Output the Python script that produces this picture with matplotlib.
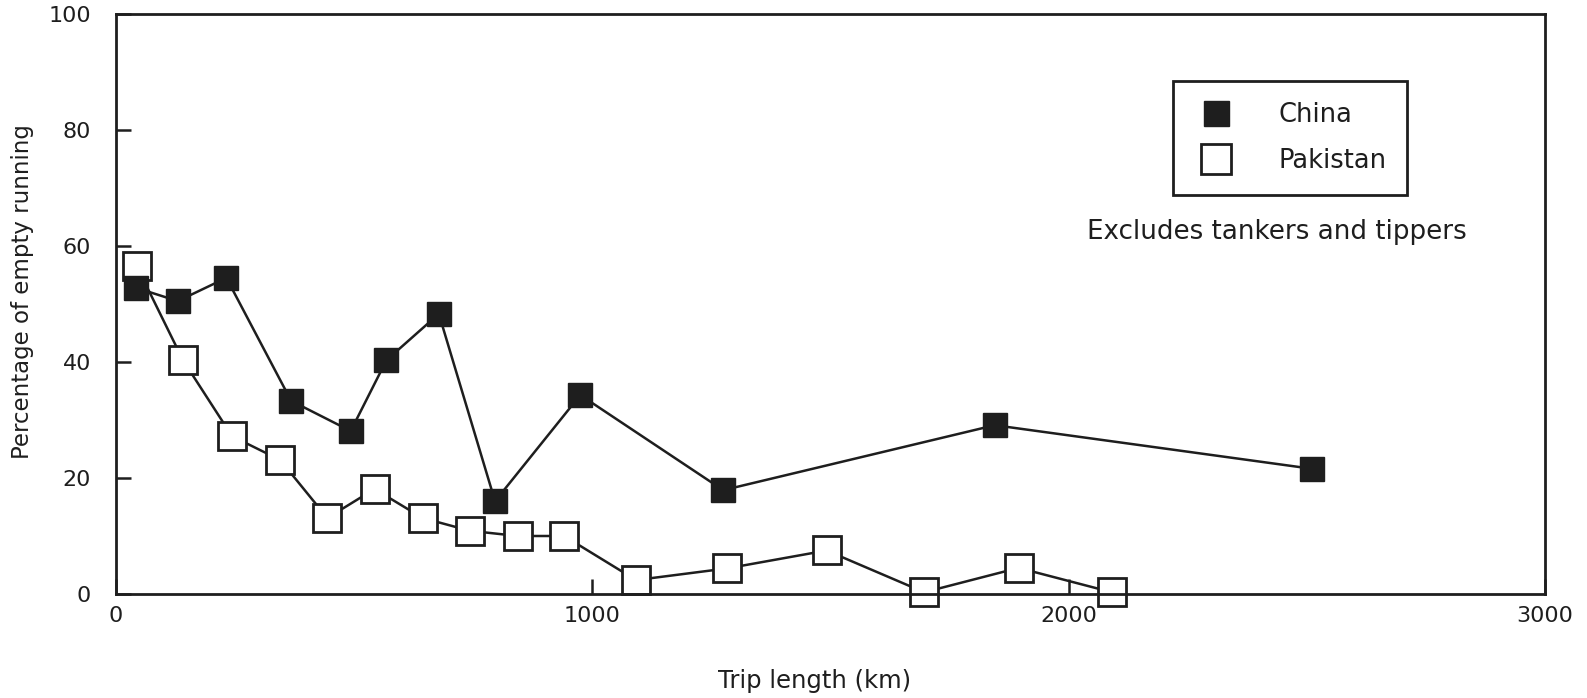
import matplotlib
matplotlib.use("Agg")
import matplotlib.pyplot as plt
from matplotlib.lines import Line2D

plt.rcParams['font.family'] = ['DejaVu Sans']

# Trip length (km) and percentage of empty running
china_km = [42, 130, 232, 368, 493, 568, 678, 796, 975, 1275, 1845, 2510]
china_pct = [52.8, 50.5, 54.5, 33.3, 28.1, 40.3, 48.3, 16.0, 34.3, 17.9, 29.1, 21.6]

pakistan_km = [44, 141, 244, 345, 444, 543, 644, 743, 844, 941,
               1092, 1282, 1492, 1697, 1895, 2091]
pakistan_pct = [56.5, 40.3, 27.2, 23.1, 13.1, 18.1, 13.1, 10.9, 10.0, 10.0,
                2.4, 4.4, 7.5, 0.3, 4.5, 0.3]

x_ticks = [0, 1000, 2000, 3000]
y_ticks = [0, 20, 40, 60, 80, 100]

ink = '#1e1e1e'

fig = plt.figure(figsize=(15.87, 6.98), dpi=100)
ax = fig.add_axes([0.073, 0.149, 0.9005, 0.831])

# Pakistan: open squares
ax.plot(pakistan_km, pakistan_pct, color=ink, lw=1.8, marker='s',
        markersize=20, markerfacecolor='white', markeredgecolor=ink,
        markeredgewidth=2.0, zorder=2, clip_on=False)

# China: filled squares
ax.plot(china_km, china_pct, color=ink, lw=1.8, marker='s',
        markersize=17, markerfacecolor=ink, markeredgecolor=ink,
        zorder=3, clip_on=False)

ax.set_xlim(0, 3000)
ax.set_ylim(0, 100)
ax.set_xticks(x_ticks)
ax.set_yticks(y_ticks)
ax.tick_params(direction='in', length=11, width=1.8, labelsize=16, colors=ink)
ax.tick_params(axis='x', pad=9)
ax.tick_params(axis='y', pad=18)
for s in ax.spines.values():
    s.set_linewidth(2.0)
    s.set_color(ink)

ax.set_xlabel('Trip length (km)', fontsize=17.5, color=ink, va='center')
ax.set_ylabel('Percentage of empty running', fontsize=16.5, color=ink, va='center')
ax.xaxis.set_label_coords(0.489, -0.150)
ax.yaxis.set_label_coords(-0.065, 0.522)

handles = [
    Line2D([], [], ls='none', marker='s', markersize=18,
           markerfacecolor=ink, markeredgecolor=ink),
    Line2D([], [], ls='none', marker='s', markersize=21,
           markerfacecolor='white', markeredgecolor=ink, markeredgewidth=2.0),
]
leg = ax.legend(handles, ['China', 'Pakistan'], loc='upper left',
                bbox_to_anchor=(0.740, 0.884), fontsize=18.5, frameon=True,
                fancybox=False, edgecolor=ink, framealpha=1, borderpad=0.8,
                handlelength=1.75, handletextpad=1.55, labelspacing=0.8,
                borderaxespad=0)
leg.get_frame().set_linewidth(2.0)
for t in leg.get_texts():
    t.set_color(ink)

ax.text(0.8125, 0.624, 'Excludes tankers and tippers', transform=ax.transAxes,
        ha='center', va='center', fontsize=18.8, color=ink)

fig.savefig('out.png', dpi=100)
